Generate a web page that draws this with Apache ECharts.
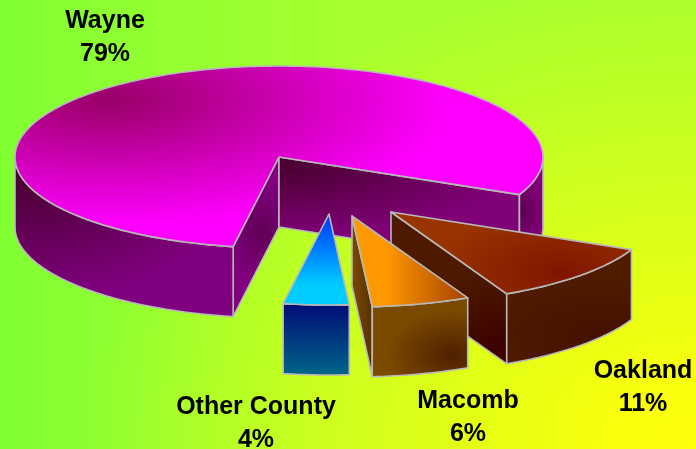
<!DOCTYPE html>
<html><head><meta charset="utf-8">
<style>html,body{margin:0;padding:0;background:#fff}#c{width:696px;height:449px}</style>
<script src="https://cdn.jsdelivr.net/npm/echarts@6/dist/echarts.min.js"></script>
</head><body><div id="c"></div>
<script>
var categories = ['Wayne', 'Oakland', 'Macomb', 'Other County'];
var shares = [79, 11, 6, 4];

// layout of the drawing, independent of the values
var W = 696, H = 449;
var startAngle = 100, rx = 264, ry = 91, depth = 70, strokeC = '#b8b8b8', strokeW = 1.6;
var centers = [[279, 157], [391, 212], [352, 216], [329, 214]];
var labelPos = [[105, 5], [643, 355], [468, 385], [256, 391]];

function el(x, y, r1, r2, c0, c1) {
  return {kind: 'el', x: x, y: y, rx: r1, ry: r2, c0: c0, c1: c1};
}
function lin(x0, y0, x1, y1, c0, c1) {
  return {kind: 'lin', x0: x0, y0: y0, x1: x1, y1: y1, c0: c0, c1: c1};
}
var paints = [
  { top: el(110, 100, 345, 125, '#990066', '#ff00ff'),
    sideA: el(30, 175, 215, 125, '#4a0030', '#800080'),
    sideB: el(522, 212, 24, 30, '#5c0050', '#800078'),
    cutStart: el(262, 232, 40, 50, '#600055', '#800080'),
    cutEnd: el(285, 165, 235, 72, '#4a0030', '#800078') },
  { top: el(560, 272, 130, 60, '#801500', '#993300'),
    sideA: el(605, 335, 130, 60, '#451000', '#4f1c00'),
    cutEnd: el(497, 352, 95, 85, '#3c0000', '#4d1a00') },
  { top: lin(385, 0, 466, 0, '#ff9900', '#a84400'),
    sideA: el(452, 355, 65, 45, '#4f2000', '#7a4a00'),
    cutEnd: lin(352, 0, 372, 0, '#7a4a00', '#5a3000') },
  { top: lin(0, 214, 0, 285, '#0030ff', '#00ccff'),
    sideA: lin(0, 305, 0, 375, '#000e78', '#006688') }
];

function rad(d) { return d * Math.PI / 180; }
function rimPt(c, a, dz) {
  return [c[0] + rx * Math.cos(rad(a)), c[1] + ry * Math.sin(rad(a)) + (dz || 0)];
}
function arc(c, a0, a1, dz) {
  var pts = [], n = Math.max(2, Math.ceil(Math.abs(a1 - a0)));
  for (var i = 0; i <= n; i++) pts.push(rimPt(c, a0 + (a1 - a0) * i / n, dz));
  return pts;
}
function face(pts, p) {
  var out = [];
  var f;
  if (p.kind === 'el') {
    var k = p.ry / p.rx;
    f = {
      type: 'polygon', scaleY: k, originX: 0, originY: 0, silent: true,
      shape: {points: pts.map(function (q) { return [q[0], q[1] / k]; })},
      style: {stroke: null, fill: {type: 'radial', x: p.x, y: p.y / k, r: p.rx, global: true,
        colorStops: [{offset: 0, color: p.c0}, {offset: 1, color: p.c1}]}}
    };
  } else {
    f = {
      type: 'polygon', silent: true, shape: {points: pts},
      style: {stroke: null, fill: {type: 'linear', x: p.x0, y: p.y0, x2: p.x1, y2: p.y1, global: true,
        colorStops: [{offset: 0, color: p.c0}, {offset: 1, color: p.c1}]}}
    };
  }
  out.push(f);
  out.push({type: 'polygon', silent: true, shape: {points: pts},
    style: {fill: null, stroke: strokeC, lineWidth: strokeW, lineJoin: 'round'}});
  return out;
}

function renderItem(params, api) {
  var idx = params.dataIndex, before = 0, total = 0;
  shares.forEach(function (v, i) { total += v; if (i < idx) before += v; });
  var a0 = startAngle + before / total * 360;
  var a1 = a0 + api.value(1) / total * 360;
  var c = centers[idx], p = paints[idx], kids = [];
  var bottom = [c[0], c[1] + depth];

  // cut faces that look at the viewer
  if (Math.cos(rad(a0)) < 0 && p.cutStart) {
    kids = kids.concat(face([c, rimPt(c, a0), rimPt(c, a0, depth), bottom], p.cutStart));
  }
  if (Math.cos(rad(a1)) > 0 && p.cutEnd) {
    kids = kids.concat(face([c, rimPt(c, a1), rimPt(c, a1, depth), bottom], p.cutEnd));
  }
  // outer wall: the parts of the rim on the viewer's side
  [[0, 180, p.sideA], [360, 540, p.sideB || p.sideA]].forEach(function (w) {
    var s = Math.max(a0, w[0]), e = Math.min(a1, w[1]);
    if (e > s) {
      kids = kids.concat(face(arc(c, s, e, 0).concat(arc(c, e, s, depth)), w[2]));
    }
  });
  // top
  kids = kids.concat(face([c].concat(arc(c, a0, a1, 0)), p.top));
  // label
  var lp = labelPos[idx];
  kids.push({
    type: 'text', silent: true, x: lp[0], y: lp[1],
    style: {text: categories[idx] + '\n' + api.value(1) + '%', align: 'center', verticalAlign: 'top',
      fill: '#000', font: 'bold 25px "Liberation Sans", Arial, sans-serif', lineHeight: 33}
  });
  return {type: 'group', children: kids};
}

var glowK = 470 / 620;
var chart = echarts.init(document.getElementById('c'), null, {renderer: 'canvas'});
chart.setOption({
  animation: false,
  graphic: [
    {type: 'rect', silent: true, shape: {x: 0, y: 0, width: W, height: H},
      style: {fill: {type: 'linear', x: 0, y: 0, x2: W, y2: 0, global: true, colorStops: [
        {offset: 0, color: '#80ff33'}, {offset: 0.5, color: '#a8ff2e'}, {offset: 1, color: '#a8ff2e'}]}}},
    {type: 'rect', silent: true, scaleX: 1, scaleY: glowK, originX: 0, originY: 0,
      shape: {x: 0, y: 0, width: W, height: H / glowK},
      style: {fill: {type: 'radial', x: W, y: H / glowK, r: 620, global: true, colorStops: [
        {offset: 0, color: 'rgba(255,255,10,1)'}, {offset: 0.12, color: 'rgba(255,255,10,0.95)'},
        {offset: 1, color: 'rgba(255,255,10,0)'}]}}}
  ],
  series: [{
    type: 'custom', coordinateSystem: 'none', clip: false, silent: true,
    renderItem: renderItem,
    data: categories.map(function (n, i) { return [i, shares[i]]; })
  }]
});
</script></body></html>
